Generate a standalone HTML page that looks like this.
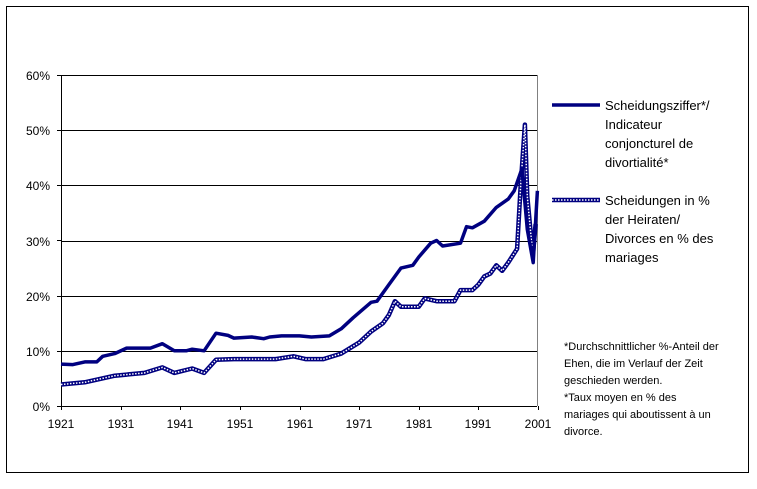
<!DOCTYPE html>
<html><head><meta charset="utf-8"><style>
body{margin:0;background:#fff;font-family:"Liberation Sans",Arial,sans-serif;}
svg text{font-family:"Liberation Sans",Arial,sans-serif;}
</style></head><body>
<svg id="s" width="757" height="484" xmlns="http://www.w3.org/2000/svg">
<rect x="6.5" y="6.5" width="742" height="466" fill="#fff" stroke="#000" stroke-width="1"/>
<g stroke="#000" stroke-width="1">
<line x1="61" y1="75.5" x2="537" y2="75.5"/>
<line x1="61" y1="130.5" x2="537" y2="130.5"/>
<line x1="61" y1="185.5" x2="537" y2="185.5"/>
<line x1="61" y1="241.5" x2="537" y2="241.5"/>
<line x1="61" y1="296.5" x2="537" y2="296.5"/>
<line x1="61" y1="351.5" x2="537" y2="351.5"/>
<line x1="61.5" y1="75" x2="61.5" y2="406"/>
<line x1="61" y1="406.5" x2="537" y2="406.5"/>
</g>
<line x1="537.5" y1="75" x2="537.5" y2="406" stroke="#808080"/>
<g id="ticks" stroke="#000"></g>
<g font-size="12" fill="#000" text-anchor="end">
<text x="50" y="80">60%</text><text x="50" y="135">50%</text><text x="50" y="190">40%</text>
<text x="50" y="246">30%</text><text x="50" y="301">20%</text><text x="50" y="356">10%</text><text x="50" y="411">0%</text>
</g>
<g font-size="12" fill="#000" text-anchor="middle">
<text x="61" y="428">1921</text><text x="121" y="428">1931</text><text x="180" y="428">1941</text><text x="240" y="428">1951</text>
<text x="300" y="428">1961</text><text x="359" y="428">1971</text><text x="419" y="428">1981</text><text x="478" y="428">1991</text><text x="538" y="428">2001</text>
</g>
<polyline id="p2" fill="none" stroke="#000080" stroke-width="4.5" stroke-linejoin="round"/>
<polyline id="p2w" fill="none" stroke="#fff" stroke-width="1.5" stroke-dasharray="1.5,1.5"/>
<polyline id="p1" fill="none" stroke="#000080" stroke-width="3.5" stroke-linejoin="round"/>
<line x1="552" y1="105" x2="600" y2="105" stroke="#000080" stroke-width="3.5"/>
<line x1="552" y1="200" x2="600" y2="200" stroke="#000080" stroke-width="4.5"/>
<line x1="552" y1="200" x2="600" y2="200" stroke="#fff" stroke-width="1.5" stroke-dasharray="1.5,1.5"/>
<g font-size="13" fill="#000">
<text x="605" y="110">Scheidungsziffer*/</text><text x="605" y="129">Indicateur</text>
<text x="605" y="148">conjoncturel de</text><text x="605" y="167">divortialité*</text>
<text x="605" y="205">Scheidungen in %</text><text x="605" y="224">der Heiraten/</text>
<text x="605" y="243">Divorces en % des</text><text x="605" y="262">mariages</text>
</g>
<g font-size="11" fill="#000">
<text x="564" y="350">*Durchschnittlicher %-Anteil der</text>
<text x="564" y="367">Ehen, die im Verlauf der Zeit</text>
<text x="564" y="384">geschieden werden.</text>
<text x="564" y="401">*Taux moyen en % des</text>
<text x="564" y="418">mariages qui aboutissent à un</text>
<text x="564" y="435">divorce.</text>
</g>
</svg>
<script>
function X(y){return 61+(y-1921)*5.9625}function Y(v){return 406-v*5.517}
var d1=[[1921,7.6],[1923,7.5],[1925,8],[1927,8],[1928,9],[1930,9.5],[1932,10.5],[1936,10.5],[1938,11.3],[1940,10],[1942,10],[1943,10.3],[1945,10],[1947,13.2],[1949,12.8],[1950,12.3],[1953,12.5],[1955,12.2],[1956,12.5],[1958,12.7],[1961,12.7],[1963,12.5],[1966,12.7],[1968,14],[1970,16],[1973,18.8],[1974,19],[1976,22],[1978,25],[1980,25.5],[1981,27],[1983,29.5],[1984,30],[1985,29],[1988,29.5],[1989,32.5],[1990,32.3],[1992,33.5],[1994,36],[1996,37.5],[1997,39],[1998.3,43],[1999.2,32],[2000.2,26],[2000.9,39]];
var d2=[[1921,3.9],[1925,4.3],[1930,5.5],[1935,6],[1938,7],[1940,6],[1943,6.8],[1945,6],[1947,8.4],[1950,8.5],[1957,8.5],[1960,9],[1962,8.5],[1965,8.5],[1968,9.5],[1971,11.5],[1973,13.5],[1975,15],[1976,16.5],[1977,19],[1978,18],[1981,18],[1982,19.5],[1984,19],[1987,19],[1988,21],[1990,21],[1991,22],[1992,23.5],[1993,24],[1994,25.5],[1995,24.5],[1996,26],[1997.5,28.5],[1998.1,40],[1998.8,51],[1999.2,38],[1999.9,30],[2000.2,28],[2000.6,33]];
function pts(d){return d.map(function(p){return X(p[0]).toFixed(1)+","+Y(p[1]).toFixed(1)}).join(" ")}
document.getElementById("p1").setAttribute("points",pts(d1));
document.getElementById("p2").setAttribute("points",pts(d2));
document.getElementById("p2w").setAttribute("points",pts(d2));
var t=document.getElementById("ticks"),h="";
for(var i=0;i<=6;i++){var y=406-i*55.17;h+='<line x1="57" y1="'+(Math.round(y)+.5)+'" x2="61" y2="'+(Math.round(y)+.5)+'"/>';}
for(var j=0;j<=8;j++){var x=Math.round(61+j*59.625)+.5;h+='<line x1="'+x+'" y1="406" x2="'+x+'" y2="410"/>';}
t.innerHTML=h;
</script>
</body></html>
